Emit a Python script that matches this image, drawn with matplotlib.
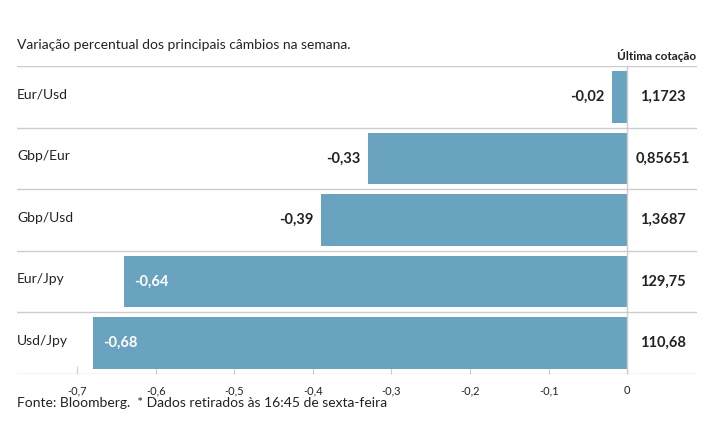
import matplotlib
matplotlib.use("Agg")
import matplotlib.pyplot as plt
from matplotlib import font_manager

categories = ["Eur/Usd", "Gbp/Eur", "Gbp/Usd", "Eur/Jpy", "Usd/Jpy"]
variation = [-0.02, -0.33, -0.39, -0.64, -0.68]
last_quote = ["1,1723", "0,85651", "1,3687", "129,75", "110,68"]
xticks = [-0.7, -0.6, -0.5, -0.4, -0.3, -0.2, -0.1, 0]
xtick_labels = ["-0,7", "-0,6", "-0,5", "-0,4", "-0,3", "-0,2", "-0,1", "0"]

plt.rcParams["font.family"] = ["Lato", "DejaVu Sans"]

W, H = 715, 445
fig = plt.figure(figsize=(W / 100, H / 100), dpi=100)
left, right, top, bottom = 17, 697, 66, 374
ax = fig.add_axes([left / W, 1 - bottom / H, (right - left) / W, (bottom - top) / H])

scale = 786.0
x0 = 627.3
ax.set_xlim((left - x0) / scale, (right - x0) / scale)
n = len(categories)
ax.set_ylim(n - 0.5, -0.5)

bar_color = "#6aa3bf"
grid_color = "#cccccc"
text_color = "#222222"

ys = list(range(n))
ax.barh(ys, variation, height=0.84, color=bar_color, zorder=2)

for y in range(n + 1):
    ax.axhline(y - 0.5, color=grid_color, lw=1.0, zorder=1)
ax.axvline(0, color=grid_color, lw=1.0, zorder=3)

xmin = ax.get_xlim()[0]
px = 1.0 / scale
for y, cat, v, q in zip(ys, categories, variation, last_quote):
    ax.text(xmin, y - 0.04, cat, ha="left", va="center", fontsize=10, color=text_color)
    lbl = ("%.2f" % v).replace(".", ",")
    if abs(v) > 0.5:
        ax.text(v + 10 * px, y, lbl, ha="left", va="center", fontsize=10.5,
                fontweight="bold", color="white", zorder=4)
    else:
        ax.text(v - 7 * px, y, lbl, ha="right", va="center", fontsize=10.5,
                fontweight="bold", color=text_color, zorder=4)
    ax.text((663 - x0) / scale, y, q, ha="center", va="center", fontsize=10.5,
            fontweight="bold", color=text_color)

for s in ["top", "right", "left", "bottom"]:
    ax.spines[s].set_visible(False)
ax.set_yticks([])
ax.set_xticks(xticks)
ax.set_xticklabels(xtick_labels, fontsize=8, color=text_color)
ax.tick_params(axis="x", direction="in", length=6, color=grid_color, pad=8)

fig.text(17 / W, 1 - 45 / H, "Variação percentual dos principais câmbios na semana.",
         ha="left", va="center", fontsize=10, color=text_color)
fig.text(696 / W, 1 - 56 / H, "Última cotação", ha="right", va="center",
         fontsize=8.5, fontweight="bold", color=text_color)
fig.text(17 / W, 1 - 403 / H, "Fonte: Bloomberg.  * Dados retirados às 16:45 de sexta-feira",
         ha="left", va="center", fontsize=10, color=text_color)

fig.savefig("out.png", dpi=100, facecolor="white")
